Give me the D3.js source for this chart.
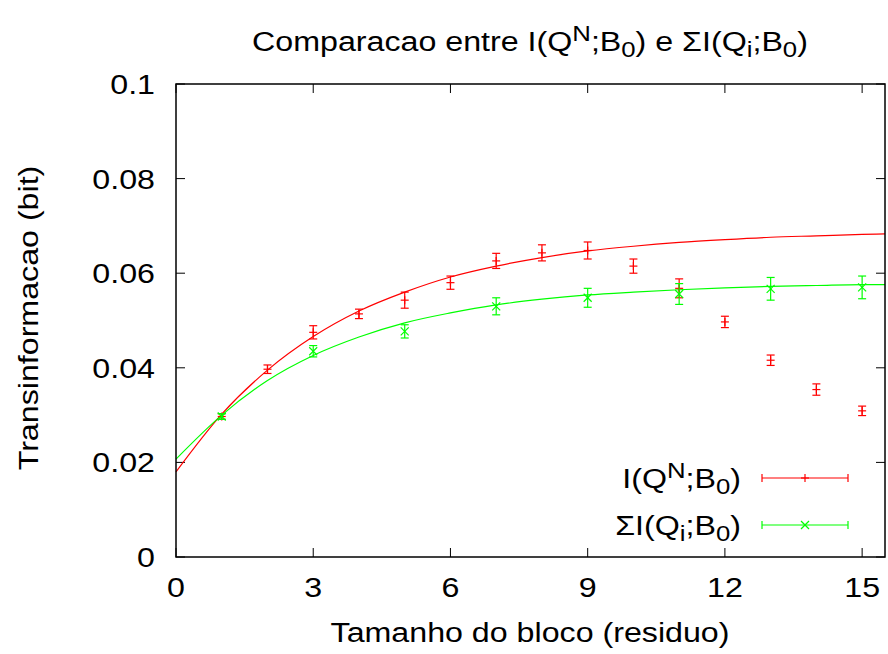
<!DOCTYPE html>
<html>
<head>
<meta charset="utf-8">
<script src="https://cdn.jsdelivr.net/npm/d3@7"></script>
<style>
  body { margin: 0; background: #fff; }
  svg text { font-family: "Liberation Sans", Arial, sans-serif; fill: #000; }
</style>
</head>
<body>
<svg id="chart" width="888" height="654"></svg>
<script>
// measured points, I(Q^N;B0)
var blockSizes = [1, 2, 3, 4, 5, 6, 7, 8, 9, 10, 11, 12, 13, 14, 15];
var infoN = [0.0297, 0.0397, 0.0475, 0.0514, 0.0543, 0.0580, 0.0626, 0.0643, 0.0648, 0.0615, 0.0568, 0.0497, 0.0416, 0.0354, 0.0309];
var infoNErr = [0.0006, 0.0009, 0.0014, 0.0010, 0.0017, 0.0014, 0.0016, 0.0017, 0.0018, 0.0015, 0.0020, 0.0012, 0.0011, 0.0012, 0.0010];

// measured points, sum of I(Qi;B0)
var sumBlocks = [1, 3, 5, 7, 9, 11, 13, 15];
var infoSum = [0.0297, 0.0435, 0.0477, 0.0530, 0.0548, 0.0556, 0.0567, 0.0570];
var infoSumErr = [0.0006, 0.0012, 0.0014, 0.0018, 0.0020, 0.0022, 0.0024, 0.0024];

// fitted curves, values
var fitX = [0, 1, 2, 3, 4, 5, 6, 7, 8, 9, 10, 11, 12, 13, 14, 15, 15.5];
var fitN = [0.0180, 0.0302, 0.0395, 0.0466, 0.0520, 0.0560, 0.0592, 0.0615, 0.0633, 0.0647, 0.0657, 0.0665, 0.0671, 0.0676, 0.0679, 0.0682, 0.0683];
var fitSum = [0.0207, 0.0300, 0.0373, 0.0426, 0.0465, 0.0495, 0.0516, 0.0533, 0.0545, 0.0554, 0.0560, 0.0565, 0.0569, 0.0572, 0.0574, 0.0576, 0.0576];

var xTicks = [0, 3, 6, 9, 12, 15];
var yTicks = [0, 0.02, 0.04, 0.06, 0.08, 0.1];

var svg = d3.select("#chart");
var mLeft = 176, mRight = 885, mTop = 84, mBottom = 557;
var fs = 28;
var stretch = 1.15;  // gnuplot's font renders wider than Liberation

var x = d3.scaleLinear().domain([0, 15.5]).range([mLeft, mRight]);
var y = d3.scaleLinear().domain([0, 0.1]).range([mBottom, mTop]);

function label(px, py, anchor, rot) {
  var tr = "translate(" + px + "," + py + ")" + (rot ? " rotate(" + rot + ")" : "") + " scale(" + stretch + ",1)";
  return svg.append("text").attr("transform", tr)
    .attr("text-anchor", anchor).style("font-size", fs + "px");
}

// ticks on all four sides (gnuplot mirror)
var tickLen = 9;
var grid = svg.append("g").attr("stroke", "#000").attr("stroke-width", 1);
xTicks.forEach(function(t) {
  grid.append("line").attr("x1", x(t)).attr("x2", x(t)).attr("y1", mBottom).attr("y2", mBottom - tickLen);
  grid.append("line").attr("x1", x(t)).attr("x2", x(t)).attr("y1", mTop).attr("y2", mTop + tickLen);
  label(x(t), 597, "middle").text(t);
});
yTicks.forEach(function(t) {
  grid.append("line").attr("x1", mLeft).attr("x2", mLeft + tickLen).attr("y1", y(t)).attr("y2", y(t));
  grid.append("line").attr("x1", mRight).attr("x2", mRight - tickLen).attr("y1", y(t)).attr("y2", y(t));
  label(mLeft - 21, y(t) + 10, "end").text(t === 0 ? "0" : String(+t.toFixed(2)));
});

// fit lines
var line = d3.line().curve(d3.curveMonotoneX)
  .x(function(d) { return x(d[0]); })
  .y(function(d) { return y(d[1]); });

var plot = svg.append("g");
plot.append("path").datum(d3.zip(fitX, fitN))
  .attr("d", line).attr("fill", "none").attr("stroke", "#ff0000").attr("stroke-width", 1.2);
plot.append("path").datum(d3.zip(fitX, fitSum))
  .attr("d", line).attr("fill", "none").attr("stroke", "#00ff00").attr("stroke-width", 1.2);

function drawMarker(e, cx, cy, marker, m) {
  if (marker == "plus") {
    e.append("line").attr("x1", cx - m).attr("x2", cx + m).attr("y1", cy).attr("y2", cy);
    e.append("line").attr("x1", cx).attr("x2", cx).attr("y1", cy - m).attr("y2", cy + m);
  } else {
    e.append("line").attr("x1", cx - m).attr("x2", cx + m).attr("y1", cy - m).attr("y2", cy + m);
    e.append("line").attr("x1", cx - m).attr("x2", cx + m).attr("y1", cy + m).attr("y2", cy - m);
  }
}

function errorBars(g, xs, ys, es, color, marker) {
  var cap = 4;
  xs.forEach(function(xv, i) {
    var cx = x(xv), cy = y(ys[i]);
    var y1 = y(ys[i] + es[i]), y2 = y(ys[i] - es[i]);
    var e = g.append("g").attr("stroke", color).attr("stroke-width", 1.2);
    e.append("line").attr("x1", cx).attr("x2", cx).attr("y1", y1).attr("y2", y2);
    e.append("line").attr("x1", cx - cap).attr("x2", cx + cap).attr("y1", y1).attr("y2", y1);
    e.append("line").attr("x1", cx - cap).attr("x2", cx + cap).attr("y1", y2).attr("y2", y2);
    drawMarker(e, cx, cy, marker, 4);
  });
}

errorBars(plot, blockSizes, infoN, infoNErr, "#ff0000", "plus");
errorBars(plot, sumBlocks, infoSum, infoSumErr, "#00ff00", "cross");

// frame
svg.append("rect").attr("x", mLeft).attr("y", mTop)
  .attr("width", mRight - mLeft).attr("height", mBottom - mTop)
  .attr("fill", "none").attr("stroke", "#000").attr("stroke-width", 1.5);

// text with super/subscripts
function richText(t, parts) {
  parts.forEach(function(p) {
    var s = t.append("tspan").text(p[0]);
    if (p[1] == "sup") s.attr("baseline-shift", "45%").style("font-size", (fs * 0.8) + "px");
    if (p[1] == "sub") s.attr("baseline-shift", "-30%").style("font-size", (fs * 0.8) + "px");
  });
}

richText(label(530, 51, "middle"),
  [["Comparacao entre I(Q"], ["N", "sup"], [";B"], ["0", "sub"], [") e \u03A3I(Q"], ["i", "sub"], [";B"], ["0", "sub"], [")"]]);

label(530, 642, "middle").text("Tamanho do bloco (residuo)");
label(38, 318, "middle", -90).text("Transinformacao (bit)");

// legend
var legendRows = [
  { parts: [["I(Q"], ["N", "sup"], [";B"], ["0", "sub"], [")"]], color: "#ff0000", marker: "plus", y: 478 },
  { parts: [["\u03A3I(Q"], ["i", "sub"], [";B"], ["0", "sub"], [")"]], color: "#00ff00", marker: "cross", y: 525 }
];
legendRows.forEach(function(r) {
  richText(label(741, r.y + 10, "end"), r.parts);
  var g = svg.append("g").attr("stroke", r.color).attr("stroke-width", 1.2);
  g.append("line").attr("x1", 762).attr("x2", 848).attr("y1", r.y).attr("y2", r.y);
  g.append("line").attr("x1", 762).attr("x2", 762).attr("y1", r.y - 4).attr("y2", r.y + 4);
  g.append("line").attr("x1", 848).attr("x2", 848).attr("y1", r.y - 4).attr("y2", r.y + 4);
  drawMarker(g, 805, r.y, r.marker, 4);
});
</script>
</body>
</html>
